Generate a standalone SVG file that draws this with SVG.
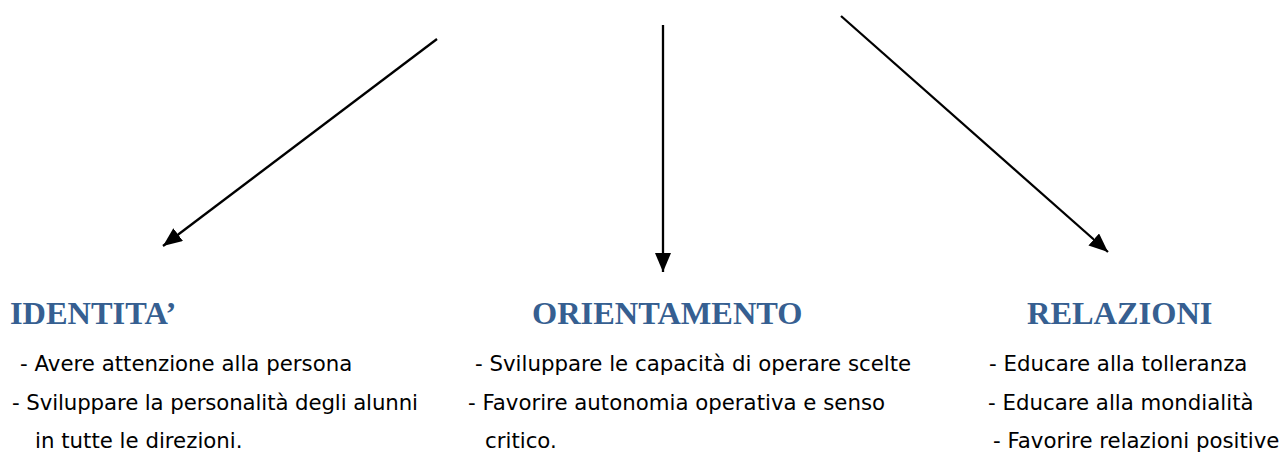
<svg xmlns="http://www.w3.org/2000/svg" width="1286" height="453" viewBox="0 0 1286 453">
<style>
.h{font-family:"Liberation Serif","Times New Roman",serif;font-weight:bold;font-size:32.4px;fill:#365F91}
.t{font-family:"DejaVu Sans",Verdana,sans-serif;font-size:21.3px;fill:#000}
.c{stroke:#000;stroke-width:2.3;fill:none}
</style>
<defs>
<marker id="ah" markerUnits="userSpaceOnUse" markerWidth="22" markerHeight="18" refX="19" refY="8" orient="auto">
<path d="M0,0 L19,8 L0,16 Z" fill="#000"/>
</marker>
</defs>
<rect width="1286" height="453" fill="#fff"/>
<g id="connectors">
<line class="c" x1="437" y1="39" x2="163" y2="246" marker-end="url(#ah)"/>
<line class="c" x1="663" y1="25" x2="663" y2="272" marker-end="url(#ah)"/>
<line class="c" x1="841" y1="16" x2="1108" y2="252" marker-end="url(#ah)"/>
</g>
<g id="identita">
<text class="h" x="10" y="324">IDENTITA’</text>
<text class="t" x="20" y="371">- Avere attenzione alla persona</text>
<text class="t" x="12" y="410" textLength="406" lengthAdjust="spacing">- Sviluppare la personalità degli alunni</text>
<text class="t" x="35" y="448">in tutte le direzioni.</text>
</g>
<g id="orientamento">
<text class="h" x="532" y="324">ORIENTAMENTO</text>
<text class="t" x="475" y="371">- Sviluppare le capacità di operare scelte</text>
<text class="t" x="468" y="410">- Favorire autonomia operativa e senso</text>
<text class="t" x="485" y="448">critico.</text>
</g>
<g id="relazioni">
<text class="h" x="1027" y="324">RELAZIONI</text>
<text class="t" x="989" y="371">- Educare alla tolleranza</text>
<text class="t" x="988" y="410">- Educare alla mondialità</text>
<text class="t" x="993" y="448">- Favorire relazioni positive</text>
</g>
</svg>
